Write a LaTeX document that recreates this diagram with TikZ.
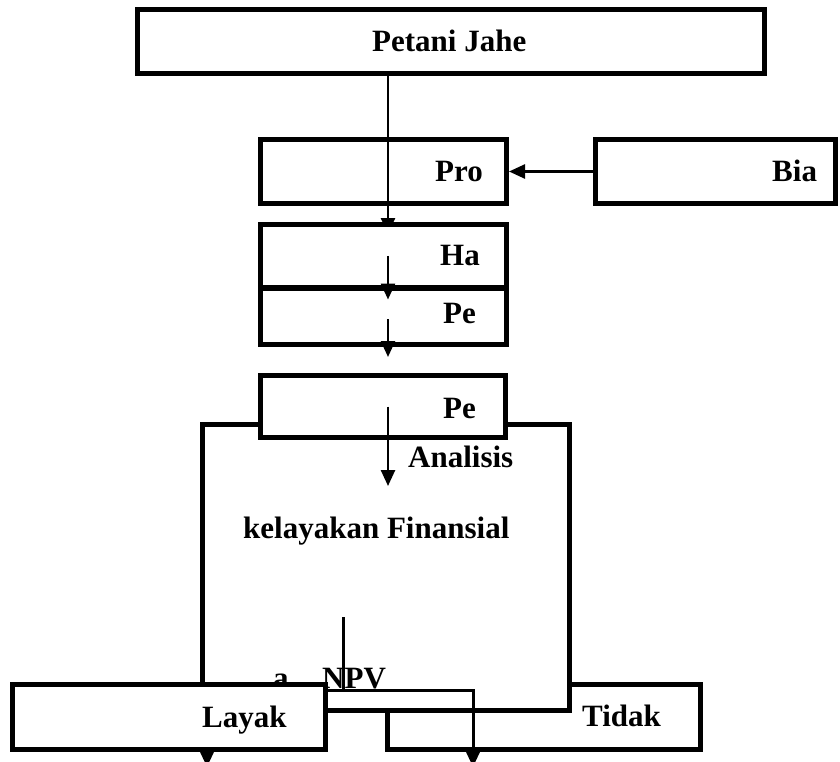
\documentclass[tikz,border=0pt]{standalone}
\usepackage{fontspec}
\setmainfont{Liberation Serif}
\usetikzlibrary{arrows.meta}
\begin{document}
\begin{tikzpicture}[x=1pt,y=-1pt,
  box/.style={draw,line width=5pt,fill=white,inner sep=0pt,minimum height=64pt},
  lbl/.style={anchor=base west,inner sep=0pt,font=\fontsize{31}{36}\selectfont\bfseries},
  arr/.style={line width=2.5pt,-{Triangle[length=16pt,width=14pt]}}]
  \useasboundingbox (0,0) rectangle (840,762);
  \coordinate (spine) at (388,0);
  % top row
  \node[box,minimum width=627pt] (petani) at (451,41.5) {};
  \node[box,minimum width=246pt] (pro) at (383.5,171.5) {};
  \node[box,minimum width=240pt] (bia) at (715.5,171.5) {};
  \draw[arr] (bia.west) -- (pro.east);
  \coordinate (hatop) at (388,234);
  \draw[arr] (petani.south -| spine) -- (hatop);
  % big box and the ones on it
  \node[box,minimum width=313pt,minimum height=65pt] (tidak) at (544,717) {};
  \node[box,minimum width=367pt,minimum height=285.5pt] (big) at (386,567.25) {};
  \node[box,minimum width=245pt,minimum height=62pt] (pe2) at (383,406.5) {};
  \draw[arr] (pe2.center -| spine) -- ([yshift=-46pt]pe2.south -| spine);
  \node[box,minimum width=246pt,minimum height=62.5pt] (ha) at (383.5,255.75) {};
  \node[box,minimum width=246pt,minimum height=56.5pt] (pe1) at (383.5,316.25) {};
  \draw[arr] (ha.center -| spine) -- ([yshift=-14pt]pe1.north -| spine);
  \draw[arr] ([yshift=-3pt]pe1.center -| spine) -- ([yshift=-10pt]pe1.south -| spine);
  % NPV and the two ways out
  \node[lbl] (ta) at (273,688) {a};
  \node[lbl] (tnpv) at (322,688) {NPV};
  \coordinate (npvtop) at (343,617);
  \coordinate (fork) at (343,690);
  \coordinate (layakout) at (207,767);
  \coordinate (tidakout) at (473,767);
  \draw[line width=3pt] (npvtop) -- ([yshift=-2pt]fork);
  \draw[arr,line width=3pt] (fork) -| (tidakout);
  \draw[arr,line width=3pt] (fork) -| (layakout);
  \node[box,minimum width=313pt,minimum height=65pt] (layak) at (169,717) {};
  % labels
  \node[lbl] (tpetani) at (372,52) {Petani Jahe};
  \node[lbl] (tpro) at (435,182) {Pro};
  \node[lbl] (tbia) at (772,182) {Bia};
  \node[lbl] (tha) at (440,265) {Ha};
  \node[lbl] (tpe1) at (443,323) {Pe};
  \node[lbl] (tpe2) at (443,418) {Pe};
  \node[lbl] (tanalisis) at (408,467) {Analisis};
  \node[lbl] (tkelayakan) at (243,538) {kelayakan Finansial};
  \node[lbl] (tlayak) at (202,727) {Layak};
  \node[lbl] (ttidak) at (582,726) {Tidak};
\end{tikzpicture}
\end{document}
